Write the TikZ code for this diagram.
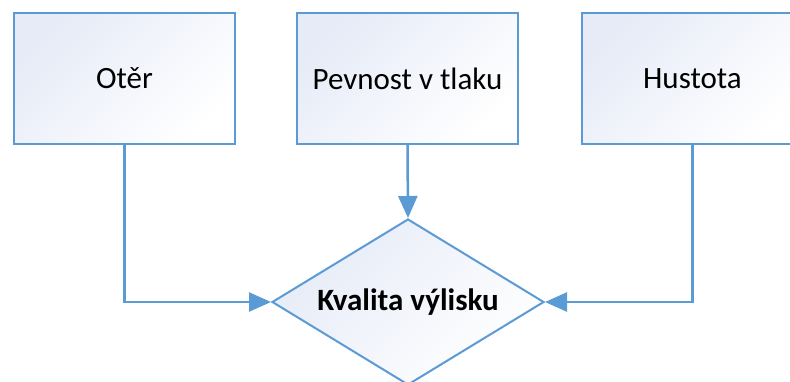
\documentclass[tikz,border=0pt]{standalone}
\usepackage{fontspec}
\setmainfont{Carlito}
\usetikzlibrary{shapes.geometric,arrows.meta}
\definecolor{edge}{RGB}{91,155,213}
\definecolor{boxfill}{RGB}{230,235,247}
\tikzset{
  box/.style={draw=edge, line width=2pt, rectangle, minimum width=221pt, minimum height=131pt,
    inner sep=0pt, top color=boxfill, middle color=boxfill!15!white, bottom color=white, shading angle=45,
    font=\fontsize{31}{37}\selectfont},
  decision/.style={draw=edge, line width=2pt, diamond, aspect=1.64, minimum width=272pt, minimum height=166pt,
    inner sep=0pt, top color=boxfill, middle color=boxfill!15!white, bottom color=white, shading angle=45,
    font=\fontsize{31}{37}\selectfont\bfseries},
  conn/.style={draw=edge, line width=2.5pt, -{Triangle[length=22pt,width=19pt]}}
}
\begin{document}
\begin{tikzpicture}[x=1pt,y=1pt]
  \useasboundingbox (0,0) rectangle (790,381);
  \clip (0,0) rectangle (790,381);
  \node[box] (otr) at (124.5,302.5) {Otěr};
  \node[box] (pev) at (407.5,302.5) {Pevnost v tlaku};
  \node[box] (hus) at (692.5,302.5) {Hustota};
  \node[decision] (kv) at (408,79) {Kvalita výlisku};
  \draw[conn] (otr.south) |- (kv.west);
  \draw[conn] (pev.south) -- (kv.north);
  \draw[conn] (hus.south) |- (kv.east);
\end{tikzpicture}
\end{document}
